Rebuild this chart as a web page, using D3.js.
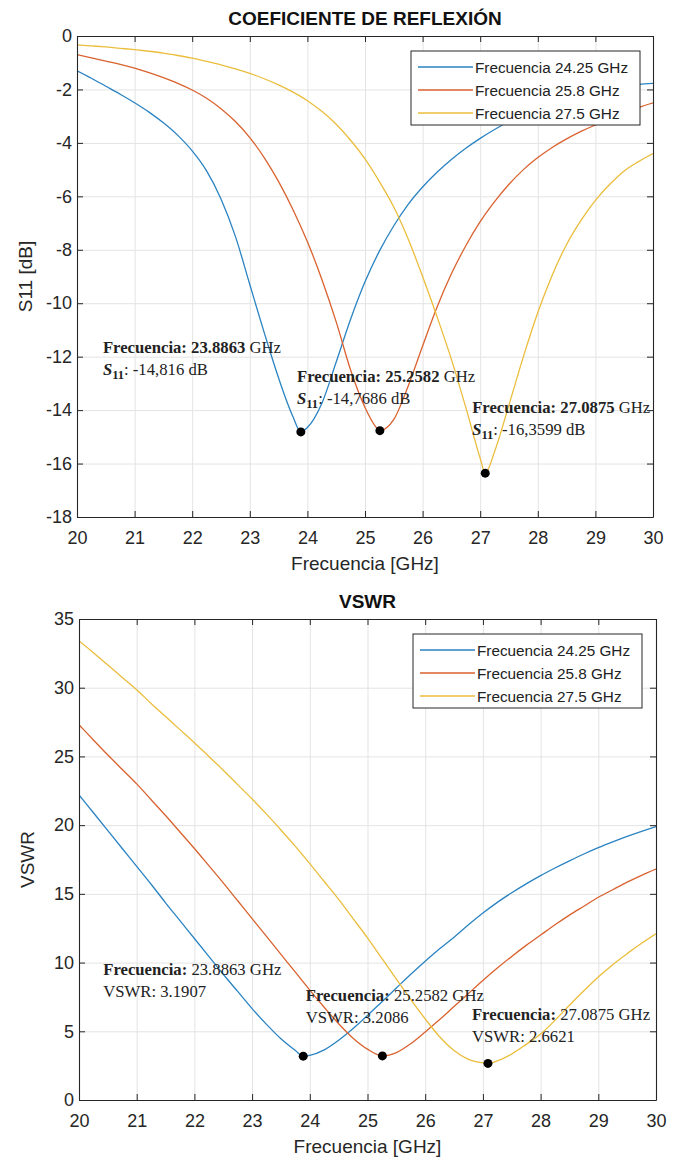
<!DOCTYPE html>
<html>
<head>
<meta charset="utf-8">
<script src="https://cdn.jsdelivr.net/npm/d3@7"></script>
<style>
  body { margin: 0; background: #fff; }
  svg { display: block; }
</style>
</head>
<body>
<div id="chart"></div>
<script>
// frequency grid (GHz) shared by all curves
const freqGHz = [20, 20.25, 20.5, 20.75, 21, 21.25, 21.5, 21.75, 22, 22.25, 22.5, 22.75,
  23, 23.25, 23.5, 23.75, 24, 24.25, 24.5, 24.75, 25, 25.25, 25.5, 25.75, 26, 26.25,
  26.5, 26.75, 27, 27.25, 27.5, 27.75, 28, 28.25, 28.5, 28.75, 29, 29.25, 29.5, 29.75, 30];

const seriesNames = ["Frecuencia 24.25 GHz", "Frecuencia 25.8 GHz", "Frecuencia 27.5 GHz"];

// S11 [dB]
const s11_2425 = [-1.30, -1.58, -1.88, -2.18, -2.50, -2.85, -3.25, -3.72, -4.30, -5.05, -6.10, -7.50,
  -9.30, -11.10, -12.80, -14.25, -14.65, -13.75, -12.20, -10.60, -9.20, -8.05, -7.10, -6.30, -5.65, -5.10,
  -4.62, -4.20, -3.83, -3.50, -3.20, -2.95, -2.72, -2.52, -2.35, -2.20, -2.07, -1.96, -1.87, -1.81, -1.77];
const s11_258 = [-0.70, -0.82, -0.94, -1.06, -1.20, -1.37, -1.56, -1.77, -2.02, -2.33, -2.72, -3.20,
  -3.80, -4.55, -5.45, -6.50, -7.70, -9.10, -10.70, -12.50, -13.90, -14.76, -14.35, -13.10, -11.60, -10.15,
  -8.90, -7.85, -6.95, -6.20, -5.55, -5.00, -4.55, -4.17, -3.85, -3.57, -3.33, -3.12, -2.93, -2.68, -2.50];
const s11_275 = [-0.33, -0.37, -0.41, -0.46, -0.51, -0.57, -0.64, -0.73, -0.83, -0.95, -1.08, -1.23,
  -1.40, -1.60, -1.83, -2.10, -2.42, -2.82, -3.30, -3.90, -4.60, -5.45, -6.40, -7.60, -9.00, -10.50,
  -12.10, -13.90, -15.80, -15.55, -13.80, -12.00, -10.35, -8.95, -7.80, -6.90, -6.15, -5.55, -5.05, -4.70, -4.40];

// VSWR
const vswr_2425 = [22.2, 20.9, 19.6, 18.3, 17.0, 15.7, 14.35, 13.05, 11.75, 10.45, 9.15, 7.9,
  6.65, 5.5, 4.45, 3.6, 3.25, 3.65, 4.35, 5.2, 6.15, 7.15, 8.15, 9.15, 10.1, 11.0,
  11.85, 12.75, 13.6, 14.38, 15.08, 15.73, 16.33, 16.88, 17.4, 17.9, 18.36, 18.78, 19.18, 19.55, 19.9];
const vswr_258 = [27.3, 26.2, 25.1, 24.05, 23.0, 21.85, 20.7, 19.5, 18.3, 17.05, 15.8, 14.5,
  13.2, 11.9, 10.6, 9.3, 8.0, 6.75, 5.55, 4.5, 3.7, 3.21, 3.45, 4.1, 4.95, 5.85,
  6.8, 7.75, 8.7, 9.6, 10.45, 11.25, 12.0, 12.75, 13.45, 14.1, 14.75, 15.3, 15.85, 16.35, 16.8];
const vswr_275 = [33.4, 32.55, 31.65, 30.75, 29.85, 28.85, 27.9, 26.95, 26.0, 25.0, 24.0, 22.95,
  21.9, 20.8, 19.65, 18.45, 17.2, 15.9, 14.6, 13.2, 11.8, 10.3, 8.8, 7.3, 5.9, 4.6,
  3.6, 2.95, 2.7, 2.85, 3.35, 4.05, 4.8, 5.8, 6.9, 7.95, 8.95, 9.85, 10.65, 11.4, 12.1];

// minima marked with data tips
const peakFreq = [23.8863, 25.2582, 27.0875];
const peakFreqText = ["23.8863", "25.2582", "27.0875"];
const peakS11 = [-14.816, -14.7686, -16.3599];
const peakS11Text = ["-14,816", "-14,7686", "-16,3599"];
const peakVSWR = [3.1907, 3.2086, 2.6621];
const peakVSWRText = ["3.1907", "3.2086", "2.6621"];

// ticks
const xTicks = [20, 21, 22, 23, 24, 25, 26, 27, 28, 29, 30];
const s11Ticks = [0, -2, -4, -6, -8, -10, -12, -14, -16, -18];
const vswrTicks = [0, 5, 10, 15, 20, 25, 30, 35];

const colors = ["#2a83c2", "#d9622f", "#ebbd3c"];
const axisColor = "#262626";
const sans = "'Liberation Sans', Arial, sans-serif";
const serif = "'Liberation Serif', 'Times New Roman', serif";

const svg = d3.select("#chart")
  .append("svg")
  .attr("width", 680)
  .attr("height", 1160);

function buildPoints(values, pf, pv) {
  let pts = freqGHz.map((f, i) => ({ f: f, v: values[i] }));
  pts.push({ f: pf, v: pv });
  return pts.sort((a, b) => a.f - b.f);
}

function panel(cfg) {
  const xScale = d3.scaleLinear().domain([20, 30]).range([cfg.left, cfg.right]);
  const yScale = d3.scaleLinear().domain(cfg.yDomain).range([cfg.bottom, cfg.top]);
  const w = cfg.right - cfg.left;
  const h = cfg.bottom - cfg.top;
  const g = svg.append("g");

  // grid
  g.append("g")
   .attr("transform", `translate(0, ${cfg.bottom})`)
   .call(d3.axisBottom(xScale).tickValues(xTicks).tickSize(-h).tickFormat(""))
   .call(s => s.select(".domain").remove())
   .call(s => s.selectAll("line").attr("stroke", "#e3e3e3"));
  g.append("g")
   .attr("transform", `translate(${cfg.left}, 0)`)
   .call(d3.axisLeft(yScale).tickValues(cfg.yTicks).tickSize(-w).tickFormat(""))
   .call(s => s.select(".domain").remove())
   .call(s => s.selectAll("line").attr("stroke", "#e3e3e3"));

  // curves
  const line = d3.line()
    .x(d => xScale(d.f))
    .y(d => yScale(d.v))
    .curve(d3.curveMonotoneX);

  g.append("clipPath").attr("id", cfg.id + "-clip")
   .append("rect").attr("x", cfg.left).attr("y", cfg.top).attr("width", w).attr("height", h);

  cfg.series.forEach((vals, i) => {
    g.append("path")
     .datum(buildPoints(vals, peakFreq[i], cfg.peaks[i]))
     .attr("clip-path", `url(#${cfg.id}-clip)`)
     .attr("fill", "none")
     .attr("stroke", colors[i])
     .attr("stroke-width", 1.3)
     .attr("d", line);
  });

  // axes with inward ticks on all four sides
  const styleAxis = s => {
    s.select(".domain").attr("stroke", axisColor).attr("stroke-width", 1.1);
    s.selectAll(".tick line").attr("stroke", axisColor);
    s.selectAll("text").attr("fill", axisColor).style("font-family", sans).style("font-size", "18px");
  };
  g.append("g")
   .attr("transform", `translate(0, ${cfg.bottom})`)
   .call(d3.axisBottom(xScale).tickValues(xTicks).tickSizeInner(-6).tickSizeOuter(0).tickPadding(14).tickFormat(d => String(d)))
   .call(styleAxis);
  g.append("g")
   .attr("transform", `translate(0, ${cfg.top})`)
   .call(d3.axisTop(xScale).tickValues(xTicks).tickSizeInner(-6).tickSizeOuter(0).tickFormat(""))
   .call(styleAxis);
  g.append("g")
   .attr("transform", `translate(${cfg.left}, 0)`)
   .call(d3.axisLeft(yScale).tickValues(cfg.yTicks).tickSizeInner(-6).tickSizeOuter(0).tickPadding(5).tickFormat(d => String(d)))
   .call(styleAxis);
  g.append("g")
   .attr("transform", `translate(${cfg.right}, 0)`)
   .call(d3.axisRight(yScale).tickValues(cfg.yTicks).tickSizeInner(-6).tickSizeOuter(0).tickFormat(""))
   .call(styleAxis);

  // title and labels
  g.append("text")
   .attr("x", (cfg.left + cfg.right) / 2)
   .attr("y", cfg.titleY)
   .attr("text-anchor", "middle")
   .style("font-family", sans)
   .style("font-size", "19px")
   .style("font-weight", "bold")
   .attr("fill", "#111")
   .text(cfg.title);

  g.append("text")
   .attr("x", (cfg.left + cfg.right) / 2)
   .attr("y", cfg.xLabelY)
   .attr("text-anchor", "middle")
   .style("font-family", sans)
   .style("font-size", "19px")
   .attr("fill", axisColor)
   .text("Frecuencia [GHz]");

  g.append("text")
   .attr("transform", `translate(${cfg.yLabelX}, ${(cfg.top + cfg.bottom) / 2}) rotate(-90)`)
   .attr("text-anchor", "middle")
   .style("font-family", sans)
   .style("font-size", "19px")
   .attr("fill", axisColor)
   .text(cfg.yLabel);

  // legend
  const lg = g.append("g").attr("transform", `translate(${cfg.legendX}, ${cfg.legendY})`);
  lg.append("rect")
    .attr("width", 229).attr("height", 74)
    .attr("fill", "#fff").attr("stroke", axisColor).attr("stroke-width", 1);
  seriesNames.forEach((name, i) => {
    const yy = 16 + i * 23;
    lg.append("line")
      .attr("x1", 7).attr("x2", 62).attr("y1", yy).attr("y2", yy)
      .attr("stroke", colors[i]).attr("stroke-width", 1.3);
    lg.append("text")
      .attr("x", 64).attr("y", yy + 5.5)
      .style("font-family", sans).style("font-size", "15.3px")
      .attr("fill", "#222")
      .text(name);
  });

  // markers
  g.selectAll(".peak")
   .data(peakFreq)
   .enter()
   .append("circle")
   .attr("class", "peak")
   .attr("cx", d => xScale(d))
   .attr("cy", (d, i) => yScale(cfg.peaks[i]))
   .attr("r", 4.5)
   .attr("fill", "#000");

  // data tips
  cfg.tips.forEach((tp, i) => {
    const tx = xScale(tp[0]);
    const ty = yScale(tp[1]);
    const t1 = g.append("text")
      .attr("x", tx).attr("y", ty)
      .style("font-family", serif).style("font-size", "16.7px").attr("fill", "#222");
    t1.append("tspan").style("font-weight", "bold").text("Frecuencia: ");
    t1.append("tspan").style("font-weight", cfg.boldValue ? "bold" : "normal").text(peakFreqText[i]);
    t1.append("tspan").text(" GHz");

    const t2 = g.append("text")
      .attr("x", tx).attr("y", ty + 22)
      .style("font-family", serif).style("font-size", "16.7px").attr("fill", "#222");
    if (cfg.id === "s11") {
      t2.append("tspan").style("font-weight", "bold").style("font-style", "italic").text("S");
      t2.append("tspan").style("font-weight", "bold").style("font-size", "12.5px").attr("dy", 4).text("11");
      t2.append("tspan").attr("dy", -4).text(": " + peakS11Text[i] + " dB");
    } else {
      t2.text("VSWR: " + peakVSWRText[i]);
    }
  });
}

panel({
  id: "s11",
  left: 77, right: 653, top: 36, bottom: 517,
  yDomain: [-18, 0], yTicks: s11Ticks,
  series: [s11_2425, s11_258, s11_275],
  peaks: peakS11,
  title: "COEFICIENTE DE REFLEXIÓN", titleY: 25,
  yLabel: "S11 [dB]", yLabelX: 32,
  xLabelY: 570,
  legendX: 411, legendY: 51,
  boldValue: true,
  tips: [[20.45, -11.86], [23.82, -12.95], [26.86, -14.11]]
});

panel({
  id: "vswr",
  left: 79, right: 656, top: 619, bottom: 1100,
  yDomain: [0, 35], yTicks: vswrTicks,
  series: [vswr_2425, vswr_258, vswr_275],
  peaks: peakVSWR,
  title: "VSWR", titleY: 608,
  yLabel: "VSWR", yLabelX: 34,
  xLabelY: 1153,
  legendX: 413, legendY: 634,
  boldValue: false,
  tips: [[20.42, 9.1], [23.93, 7.23], [26.81, 5.82]]
});
</script>
</body>
</html>
